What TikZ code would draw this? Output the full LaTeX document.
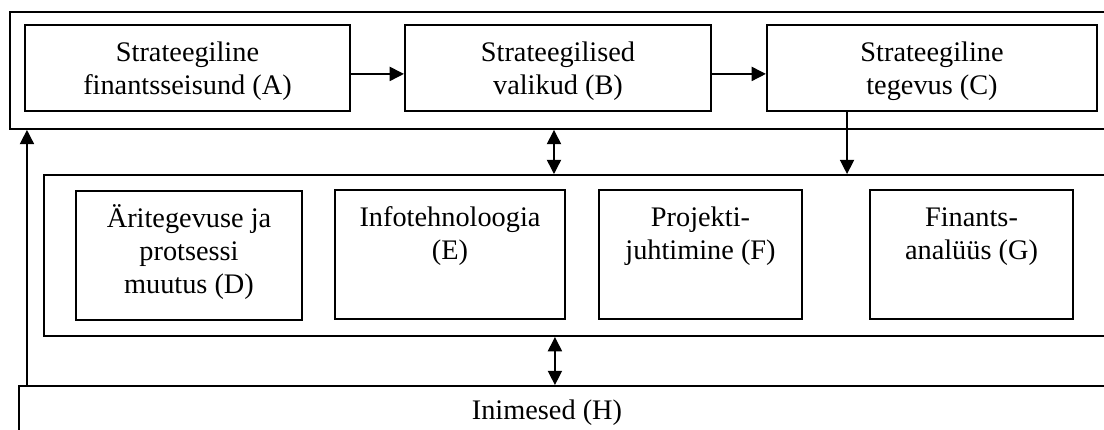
\documentclass[tikz,border=0pt]{standalone}
\usepackage{fontspec}
\setmainfont{Liberation Serif}
\usetikzlibrary{arrows.meta}
\newcommand{\toplines}[1]{\begin{tabular}[t]{@{}c@{}}#1\end{tabular}}

\begin{document}
\begin{tikzpicture}[>={Triangle[length=6pt,width=6pt]},x=0.0149cm,y=-0.0149cm,
		every node/.style={font=\fontsize{12}{14}\selectfont},
		frame/.style={draw,line width=0.8pt,anchor=north west,inner sep=0pt},
		topbox/.style={draw,line width=0.8pt,anchor=north,inner ysep=4pt,text height=11.3pt,text depth=17.2pt},
		midbox/.style={draw,line width=0.8pt,anchor=north,inner ysep=4pt,text height=11.5pt,text depth=35pt},
		link/.style={line width=0.6pt}]
		\useasboundingbox (0,0) rectangle (1104,429);
		\clip (0,0) rectangle (1104,429);
		\node[frame,minimum width=471pt,minimum height=49.6pt] (top) at (9,11) {};
		\node[frame,minimum width=457pt,minimum height=68.3pt] (mid) at (43,174) {};
		\node[frame,minimum width=468pt,minimum height=26pt] (H) at (18,385) {};
		\node[topbox,minimum width=137.8pt] (A) at (187.5,24) {\toplines{Strateegiline\\finantsseisund (A)}};
		\node[topbox,minimum width=129.8pt] (B) at (558,24) {\toplines{Strateegilised\\valikud (B)}};
		\node[topbox,minimum width=140pt] (C) at (932,24) {\toplines{Strateegiline\\tegevus (C)}};
		\node[midbox,minimum width=95.8pt] (D) at (189,190) {\toplines{Äritegevuse ja\\protsessi\\muutus (D)}};
		\node[midbox,minimum width=97.5pt] (E) at (450,189) {\toplines{Infotehnoloogia\\(E)}};
		\node[midbox,minimum width=86.1pt] (F) at (700.5,189) {\toplines{Projekti-\\juhtimine (F)}};
		\node[midbox,minimum width=86.1pt] (G) at (971.5,189) {\toplines{Finants-\\analüüs (G)}};
		\node[anchor=base] (Hlabel) at (547,419) {Inimesed (H)};
		\draw[link,->] ([yshift=-2.5pt]A.east) -- ([yshift=-2.5pt]A.east -| B.west);
		\draw[link,->] ([yshift=-2.5pt]B.east) -- ([yshift=-2.5pt]B.east -| C.west);
		\draw[link,->] ([xshift=-36pt]C.south) -- ([xshift=-36pt]C.south |- mid.north);
		\draw[link,<->] ([xshift=-1.7pt]B.south |- top.south) -- ([xshift=-1.7pt]B.south |- mid.north);
		\draw[link,<->] ([xshift=-1.3pt]B.south |- mid.south) -- ([xshift=-1.3pt]B.south |- H.north);
		\draw[link,->] ([xshift=3.8pt]H.north west) -- ([xshift=3.8pt]H.north west |- top.south);
	\end{tikzpicture}
\end{document}
